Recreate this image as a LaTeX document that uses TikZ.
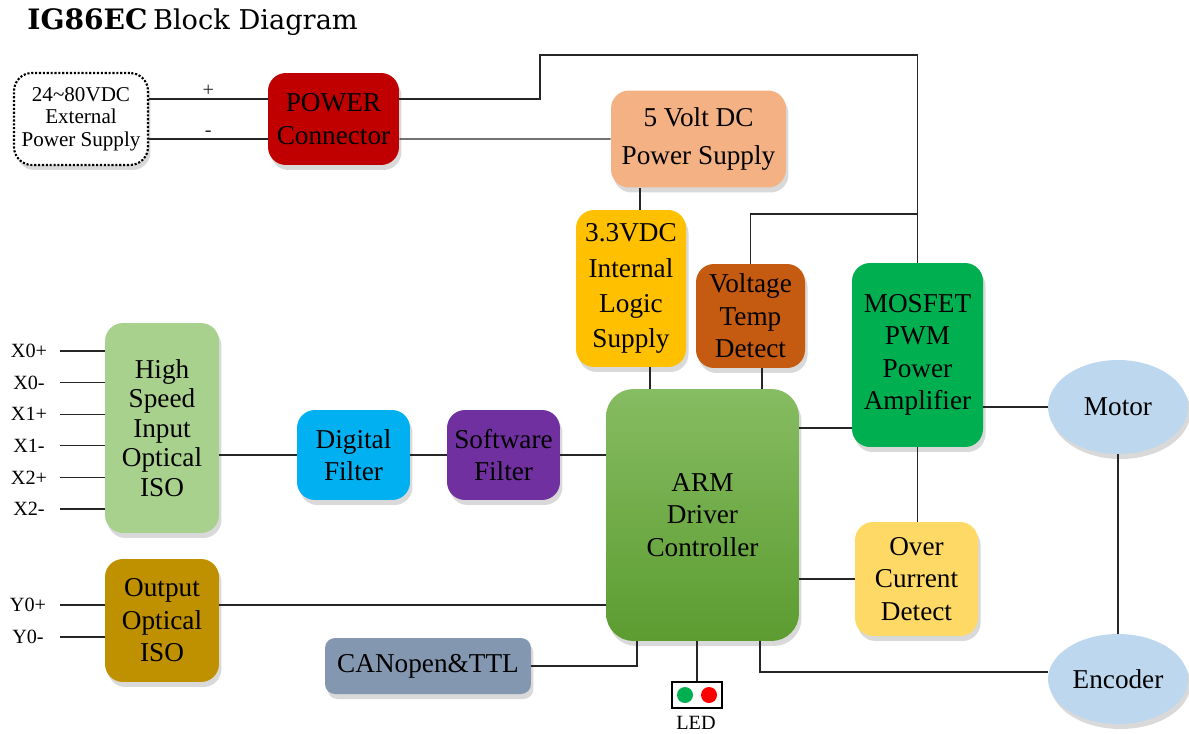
\documentclass[tikz,border=0pt]{standalone}
\usepackage{fontspec}
\setmainfont{Liberation Serif}
\newfontfamily\titlefont{DejaVu Serif}
\usetikzlibrary{shapes.geometric,shadows}

\definecolor{pwrred}{HTML}{C00000}
\definecolor{fivevorange}{HTML}{F4B183}
\definecolor{logicyellow}{HTML}{FFC000}
\definecolor{voltbrown}{HTML}{C55A11}
\definecolor{mosgreen}{HTML}{00B050}
\definecolor{motorblue}{HTML}{BDD7EE}
\definecolor{armtop}{HTML}{86BC62}
\definecolor{armbot}{HTML}{5C9C30}
\definecolor{ocyellow}{HTML}{FFD966}
\definecolor{hsgreen}{HTML}{A9D18E}
\definecolor{dfblue}{HTML}{00B0F0}
\definecolor{sfpurple}{HTML}{7030A0}
\definecolor{outgold}{HTML}{BF9000}
\definecolor{cangray}{HTML}{8497B0}
\definecolor{ledgreen}{HTML}{00B050}
\definecolor{ledred}{HTML}{FF0000}

\begin{document}
\begin{tikzpicture}[x=0.02cm,y=-0.02cm]

  \tikzstyle{boxshadow}=[drop shadow={shadow xshift=0.05cm,shadow yshift=-0.1cm,opacity=0.3}]
  \tikzstyle{block}=[rectangle,rounded corners=0.36cm,inner sep=0pt,align=center,font=\fontsize{15.5}{18.5}\selectfont,boxshadow]
  \tikzstyle{unit}=[ellipse,fill=motorblue,inner sep=0pt,minimum width=2.8cm,font=\fontsize{15.5}{18.5}\selectfont,boxshadow]
  \tikzstyle{wire}=[line width=0.6pt,black!85]
  \tikzstyle{pin}=[font=\fontsize{11.5}{13}\selectfont,inner sep=1pt]

  \useasboundingbox (0,0) rectangle (1189,733);

  \node[anchor=base west,inner sep=0pt] (title) at (27,30)
    {\titlefont{\fontsize{16}{18}\selectfont\bfseries IG86EC} {\fontsize{15.5}{17}\selectfont Block Diagram}};

  % power side
  \node[block,fill=white,draw,densely dotted,line width=1.2pt,minimum width=2.68cm,minimum height=1.84cm,
        font=\fontsize{12}{12.8}\selectfont] (ext) at (81,119) {24\textasciitilde80VDC\\External\\Power Supply};
  \node[block,fill=pwrred,minimum width=2.62cm,minimum height=1.84cm] (power) at (333.5,119) {POWER\\Connector};
  \node[block,fill=fivevorange,minimum width=3.5cm,minimum height=1.94cm,font=\fontsize{15.5}{21.5}\selectfont] (fivev) at (698.5,139) {5 Volt DC\\Power Supply};
  \node[block,fill=logicyellow,minimum width=2.2cm,minimum height=3.14cm,font=\fontsize{15.5}{20}\selectfont] (logic) at (631,288.5) {3.3VDC\\Internal\\Logic\\Supply};
  \node[block,fill=voltbrown,minimum width=2.18cm,minimum height=2.08cm] (volt) at (750.5,316) {Voltage\\Temp\\Detect};
  \node[block,fill=mosgreen,minimum width=2.62cm,minimum height=3.68cm] (mos) at (917.5,355) {MOSFET\\PWM\\Power\\Amplifier};
  \node[unit,minimum height=1.88cm] (motor) at (1118,407) {Motor};
  \node[unit,minimum height=1.8cm] (enc) at (1118,679) {Encoder};

  % controller
  \node[block,rounded corners=0.55cm,top color=armtop,bottom color=armbot,minimum width=3.86cm,minimum height=5.04cm] (arm) at (702.5,515) {ARM\\Driver\\Controller};
  \node[block,fill=ocyellow,minimum width=2.46cm,minimum height=2.28cm] (oc) at (916.5,579) {Over\\Current\\Detect};

  % io side
  \node[block,fill=hsgreen,minimum width=2.28cm,minimum height=4.2cm,font=\fontsize{15.5}{16.8}\selectfont] (hs) at (162,428) {High\\Speed\\Input\\Optical\\ISO};
  \node[block,fill=dfblue,minimum width=2.26cm,minimum height=1.8cm] (df) at (353.5,455) {Digital\\Filter};
  \node[block,fill=sfpurple,minimum width=2.26cm,minimum height=1.8cm] (sf) at (503.5,455) {Software\\Filter};
  \node[block,fill=outgold,minimum width=2.28cm,minimum height=2.46cm] (oiso) at (162,620.5) {Output\\Optical\\ISO};
  \node[block,rounded corners=0.2cm,fill=cangray,minimum width=4.12cm,minimum height=1.12cm] (can) at (428,666) {CANopen\&TTL};

  % led
  \node[draw,line width=1.6pt,fill=white,minimum width=1.0cm,minimum height=0.52cm,inner sep=0pt] (led) at (697,695) {};
  \node[circle,fill=ledgreen,minimum size=0.32cm,inner sep=0pt] (ledg) at ([xshift=-0.24cm]led.center) {};
  \node[circle,fill=ledred,minimum size=0.32cm,inner sep=0pt] (ledr) at ([xshift=0.24cm]led.center) {};
  \node[pin] (ledlabel) at (696,723) {LED};

  % inputs / outputs
  \foreach \pname [count=\i from 0] in {X0+,X0-,X1+,X1-,X2+,X2-}{
    \node[pin] (xlab\i) at (29,351+31.6*\i) {\pname};
    \coordinate (xin\i) at (60,351+31.6*\i);
    \draw[wire] (xin\i) -- (hs.west |- xin\i);
  }
  \foreach \pname [count=\i from 0] in {Y0+,Y0-}{
    \node[pin] (ylab\i) at (28,605+32*\i) {\pname};
    \coordinate (yin\i) at (60,605+32*\i);
    \draw[wire] (yin\i) -- (oiso.west |- yin\i);
  }

  % wires
  \draw[wire] ([yshift=0.4cm]ext.east) -- node[pin,above] (plus) {+} ([yshift=0.4cm]power.west);
  \draw[wire] ([yshift=-0.4cm]ext.east) -- node[pin,above] (minus) {-} ([yshift=-0.4cm]power.west);
  \coordinate (bus) at (540,55);
  \draw[wire] ([yshift=0.4cm]power.east) -| (bus) -| (mos.north);
  \draw[wire] ([yshift=-0.4cm]power.east) -- (fivev.west);

  \coordinate (l1) at ([xshift=0.18cm]logic.north);
  \draw[wire] (l1) -- (l1 |- fivev.south);
  \coordinate (tap) at (917.5,214);
  \draw[wire] (volt.north) |- (tap);
  \coordinate (l2) at ([xshift=0.38cm]logic.south);
  \draw[wire] (l2) -- (l2 |- arm.north);
  \coordinate (v2) at ([xshift=0.23cm]volt.south);
  \draw[wire] (v2) -- (v2 |- arm.north);

  \coordinate (m1) at ([yshift=-1.46cm]mos.west);
  \draw[wire] (m1) -- (m1 -| arm.east);
  \draw[wire] (mos.east |- motor.west) -- (motor.west);
  \draw[wire] (motor.south) -- (enc.north);
  \draw[wire] (mos.south) -- (mos.south |- oc.north);
  \draw[wire] (arm.east |- oc.west) -- (oc.west);

  \draw[wire] (hs.east |- df.west) -- (df.west);
  \draw[wire] (df.east) -- (sf.west);
  \draw[wire] (sf.east) -- (sf.east -| arm.west);
  \draw[wire] (oiso.east |- yin0) -- (arm.west |- yin0);

  \coordinate (c1) at ([xshift=-1.31cm]arm.south);
  \draw[wire] (can.east) -| (c1);
  \draw[wire] (led.north) -- (led.north |- arm.south);
  \coordinate (e1) at ([xshift=1.15cm]arm.south);
  \draw[wire] (e1) |- ([yshift=0.14cm]enc.west);

  %\draw[step=50,gray,very thin] (0,0) grid (1189,733);

\end{tikzpicture}
\end{document}
